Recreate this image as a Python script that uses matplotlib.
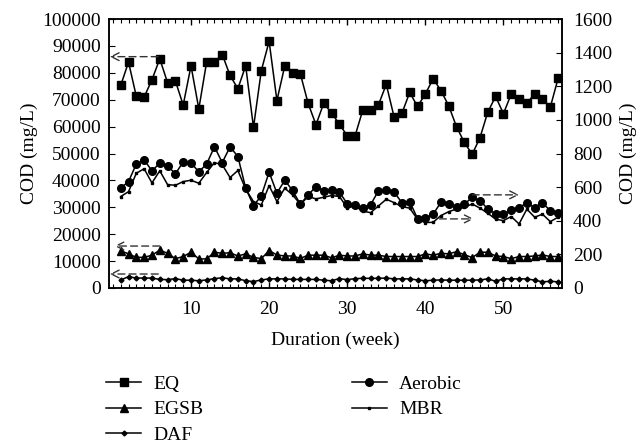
import numpy as np
import matplotlib.pyplot as plt
from matplotlib.ticker import MultipleLocator

plt.rcParams['font.family'] = ['Liberation Serif', 'DejaVu Serif']

weeks = np.arange(1, 58)

# left axis (mg/L)
eq = [75300, 84000, 71200, 71000, 77400, 85200, 76300, 77000, 68000, 82600,
      66600, 84000, 84000, 86800, 79000, 74100, 82600, 59700, 80800, 91700,
      69700, 82500, 79900, 79600, 68600, 60700, 68700, 65000, 60900, 56600,
      56500, 66200, 66200, 68100, 75700, 63600, 64900, 72700, 67500, 72100,
      77800, 73400, 67700, 59900, 54100, 49700, 55900, 65400, 71200, 64800,
      72100, 70300, 68700, 72200, 70200, 67200, 77900]
egsb = [13800, 12700, 11400, 11400, 12200, 14100, 12900, 10900, 11700, 13300,
        10800, 10800, 13300, 12900, 13100, 11900, 12700, 11400, 10900, 13900,
        12300, 11900, 11900, 11000, 12200, 12200, 12200, 11200, 12200, 11900,
        11900, 12700, 12200, 12200, 11700, 11700, 11700, 11700, 11700, 12700,
        12200, 12900, 12700, 13500, 12400, 11300, 13300, 13300, 11900, 11700,
        10900, 11700, 11700, 11900, 12300, 11700, 11700]
daf = [3000, 4200, 3700, 3700, 3700, 3200, 3100, 3500, 2900, 2900,
       2700, 3000, 3500, 3800, 3400, 3400, 2700, 2400, 3000, 3400,
       3400, 3400, 3200, 3200, 3200, 3200, 2900, 2700, 3500, 3100,
       3500, 3600, 3600, 3600, 3700, 3400, 3400, 3400, 3000, 2700,
       2900, 3000, 2900, 2900, 2900, 2900, 3000, 3400, 2500, 3400,
       3400, 3400, 3400, 2900, 2300, 2500, 2300]

# right axis (mg/L)
aerobic = [594, 633, 738, 762, 697, 742, 727, 679, 750, 744,
           691, 737, 840, 746, 840, 782, 594, 490, 548, 689,
           564, 641, 580, 498, 554, 603, 578, 580, 570, 502,
           496, 478, 496, 578, 582, 570, 508, 514, 413, 415,
           439, 510, 498, 484, 498, 540, 520, 470, 439, 439,
           464, 478, 506, 478, 506, 460, 448]
mbr = [544, 573, 683, 709, 625, 697, 615, 611, 633, 641,
       623, 687, 746, 733, 657, 699, 588, 514, 494, 609,
       514, 594, 554, 498, 544, 530, 540, 550, 544, 478,
       488, 457, 448, 488, 528, 508, 484, 475, 409, 389,
       391, 431, 454, 470, 480, 500, 475, 445, 409, 401,
       425, 381, 469, 421, 439, 395, 421]

fs = 14

fig = plt.figure(figsize=(6.42, 4.47), dpi=100)
ax = fig.add_axes([109/642, 1-288/447, (562-109)/642, (288-19)/447])
ax2 = ax.twinx()

lw = 1.1
h1, = ax.plot(weeks, eq, 'k-', marker='s', ms=5.5, lw=lw, label='EQ')
h2, = ax.plot(weeks, egsb, 'k-', marker='^', ms=6, lw=lw, label='EGSB')
h3, = ax.plot(weeks, daf, 'k-', marker='D', ms=2.5, lw=lw, label='DAF')
h4, = ax2.plot(weeks, aerobic, 'k-', marker='o', ms=5.5, lw=lw, label='Aerobic')
h5, = ax2.plot(weeks, mbr, 'k-', marker='s', ms=1.8, lw=lw, label='MBR')

ax.set_xlim(-0.5, 57.5)
ax.set_ylim(0, 100000)
ax2.set_ylim(0, 1600)
ax.xaxis.set_major_locator(MultipleLocator(10))
ax.xaxis.set_minor_locator(MultipleLocator(1))
ax.set_xticks([10, 20, 30, 40, 50])
ax.yaxis.set_major_locator(MultipleLocator(10000))
ax2.yaxis.set_major_locator(MultipleLocator(200))

ax.tick_params(axis='x', which='both', direction='in', top=True, labelsize=fs, pad=9)
ax.tick_params(axis='x', which='major', length=4, width=1)
ax.tick_params(axis='x', which='minor', length=3, width=0.8)
ax.tick_params(axis='y', direction='in', length=4, labelsize=fs, pad=6)
ax2.tick_params(axis='y', direction='in', length=4, labelsize=fs, pad=8)

for a in (ax, ax2):
    for s in a.spines.values():
        s.set_linewidth(1.1)

ax.set_xlabel('Duration (week)', fontsize=fs, labelpad=10)
ax.set_ylabel('COD (mg/L)', fontsize=fs, labelpad=3)
ax2.set_ylabel('COD (mg/L)', fontsize=fs, labelpad=5)

# dashed arrows pointing to the axis of each series
arr = dict(arrowstyle='->', linestyle=(0, (5, 3)), lw=1.0, color='#333333',
           mutation_scale=14, shrinkA=0, shrinkB=0)
ax.annotate('', xy=(-0.4, 86000), xytext=(5.8, 86000), arrowprops=arr)
ax.annotate('', xy=(0.2, 15600), xytext=(6.0, 15600), arrowprops=arr)
ax.annotate('', xy=(-0.4, 5200), xytext=(5.8, 5200), arrowprops=arr)
ax2.annotate('', xy=(52.0, 554), xytext=(46.0, 554), arrowprops=arr)
ax2.annotate('', xy=(46.2, 411), xytext=(41.8, 411), arrowprops=arr)

fig.legend(handles=[h1, h2, h3, h4, h5], ncol=2, frameon=False,
           loc='upper left', bbox_to_anchor=(106/642, 1-375/447),
           fontsize=fs, handlelength=1.8, handletextpad=0.65,
           columnspacing=7.6, labelspacing=0.42, borderpad=0,
           borderaxespad=0)

fig.savefig('out.png', dpi=100)
